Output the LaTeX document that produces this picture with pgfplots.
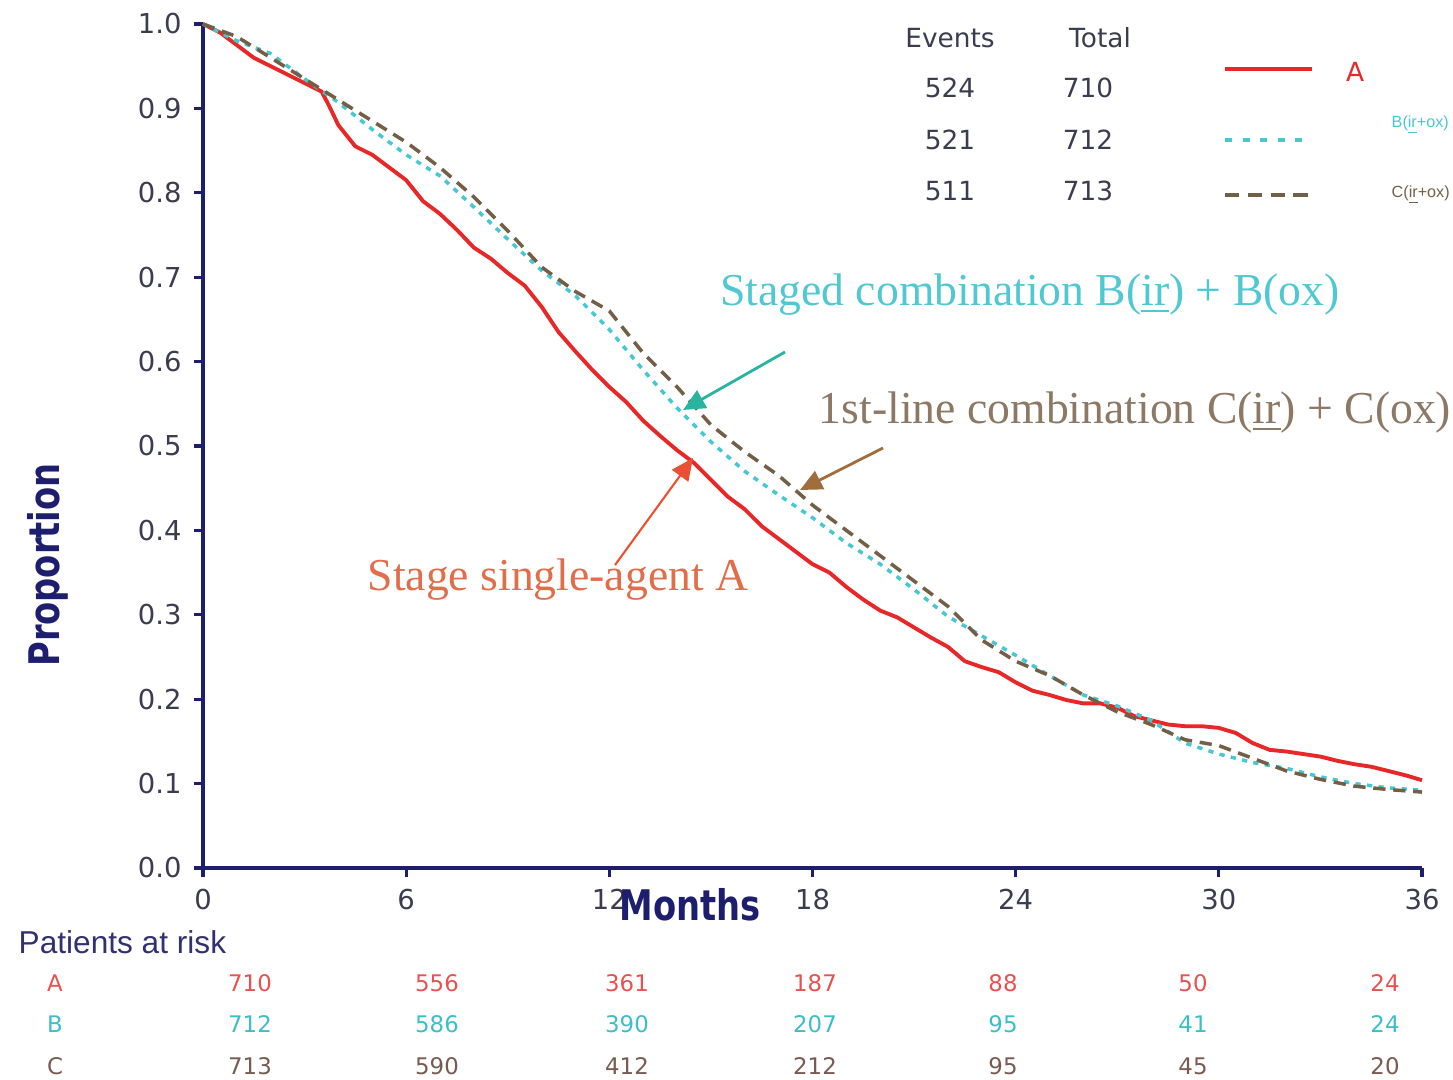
\documentclass[border=0pt]{standalone}
\usepackage{pgfplots}
\pgfplotsset{compat=1.18}
\usepackage{fontspec}
\setmainfont{DejaVu Sans}
\newfontfamily\serif{Liberation Serif}
\newfontfamily\lsans{Liberation Sans}
\usetikzlibrary{arrows.meta}
\definecolor{navy}{RGB}{30,30,110}
\definecolor{ticklab}{RGB}{60,60,80}
\definecolor{redA}{RGB}{232,40,40}
\definecolor{cyanB}{RGB}{70,200,210}
\definecolor{brownC}{RGB}{115,95,70}
\definecolor{txtB}{RGB}{80,200,210}
\definecolor{txtC}{RGB}{140,120,100}
\definecolor{txtA}{RGB}{225,110,75}
\definecolor{arrB}{RGB}{40,180,160}
\definecolor{arrC}{RGB}{160,110,60}
\definecolor{arrA}{RGB}{235,80,50}
\definecolor{tabA}{RGB}{235,80,80}
\definecolor{tabB}{RGB}{60,190,200}
\definecolor{tabC}{RGB}{120,90,80}
\begin{document}
\begin{tikzpicture}
\path[use as bounding box] (-20.3mm,-21.1mm) rectangle (125.0mm,86.8mm);
\begin{axis}[
  at={(0,0)}, anchor=origin,
  scale only axis, width=121.9mm, height=84.4mm,
  xmin=0, xmax=36, ymin=0, ymax=1,
  axis lines*=left,
  axis line style={navy, line width=1pt},
  xtick={0,6,12,18,24,30,36},
  ytick={0,0.1,0.2,0.3,0.4,0.5,0.6,0.7,0.8,0.9,1.0},
  tick align=outside, major tick length=0.9mm,
  tick style={navy, line width=0.9pt},
  ticklabel style={font=\fontsize{7.8}{9}\selectfont, text=ticklab},
  yticklabel style={/pgf/number format/.cd, fixed, fixed zerofill, precision=1},
  /pgf/number format/assume math mode=true,
  clip=false,
]
% A
\addplot[redA, line width=1.1pt] coordinates {
(0,1.0) (0.5,0.99) (1,0.975) (1.5,0.96) (2,0.95) (2.5,0.94) (3,0.93) (3.5,0.92) (3.7,0.905) (4,0.88) (4.5,0.855) (5,0.845) (5.5,0.83) (6,0.815) (6.5,0.79) (7,0.775) (7.5,0.756) (8,0.735) (8.5,0.722) (9,0.705) (9.5,0.69) (10,0.665) (10.5,0.635) (11,0.612) (11.5,0.59) (12,0.57) (12.5,0.552) (13,0.53) (13.5,0.512) (14,0.495) (14.5,0.48) (15,0.46) (15.5,0.44) (16,0.425) (16.5,0.405) (17,0.39) (17.5,0.375) (18,0.36) (18.5,0.35) (19,0.333) (19.5,0.318) (20,0.305) (20.5,0.297) (21,0.285) (21.5,0.273) (22,0.262) (22.5,0.245) (23,0.238) (23.5,0.232) (24,0.22) (24.5,0.21) (25,0.205) (25.5,0.199) (26,0.195) (26.5,0.195) (27,0.19) (27.5,0.18) (28,0.175) (28.5,0.17) (29,0.168) (29.5,0.168) (30,0.166) (30.5,0.16) (31,0.148) (31.5,0.14) (32,0.138) (32.5,0.135) (33,0.132) (33.5,0.127) (34,0.123) (34.5,0.12) (35,0.115) (35.5,0.11) (36,0.104)
};
% B
\addplot[cyanB, line width=1pt, dash pattern=on 1.5pt off 1.8pt] coordinates {
(0,1.0) (1,0.98) (2,0.965) (3,0.935) (4,0.907) (5,0.875) (6,0.845) (7,0.82) (8,0.783) (9,0.745) (10,0.708) (11,0.678) (12,0.638) (13,0.59) (14,0.545) (15,0.505) (16,0.47) (17,0.442) (18,0.415) (19,0.385) (20,0.36) (21,0.33) (22,0.298) (23,0.275) (24,0.252) (25,0.228) (26,0.205) (27,0.192) (28,0.175) (29,0.148) (30,0.135) (31,0.125) (32,0.118) (33,0.108) (34,0.1) (35,0.095) (36,0.092)
};
% C
\addplot[brownC, line width=1pt, dash pattern=on 3.5pt off 2.2pt] coordinates {
(0,1.0) (1,0.985) (2,0.96) (3,0.935) (4,0.91) (5,0.885) (6,0.86) (7,0.83) (8,0.795) (9,0.755) (10,0.712) (11,0.683) (12,0.66) (13,0.61) (14,0.57) (15,0.525) (16,0.493) (17,0.465) (18,0.43) (19,0.4) (20,0.37) (21,0.34) (22,0.31) (23,0.27) (24,0.245) (25,0.228) (26,0.205) (27,0.185) (28,0.17) (29,0.152) (30,0.145) (31,0.13) (32,0.115) (33,0.105) (34,0.097) (35,0.093) (36,0.09)
};
% legend samples
\addplot[redA, line width=1.4pt, forget plot] coordinates {(30.18,0.9467) (32.75,0.9467)};
\addplot[cyanB, line width=1.2pt, dash pattern=on 2pt off 3pt, forget plot] coordinates {(30.18,0.8626) (32.55,0.8626)};
\addplot[brownC, line width=1.2pt, dash pattern=on 4pt off 2.5pt, forget plot] coordinates {(30.18,0.7974) (32.69,0.7974)};
\end{axis}
% legend table
\begin{scope}[font=\fontsize{7.5}{9}\selectfont, text=ticklab]
\node at (74.7mm,83.0mm) {Events};
\node at (89.7mm,83.0mm) {Total};
\node at (74.7mm,78.0mm) {524};
\node at (88.5mm,78.0mm) {710};
\node at (74.7mm,72.8mm) {521};
\node at (88.5mm,72.8mm) {712};
\node at (74.7mm,67.7mm) {511};
\node at (88.5mm,67.7mm) {713};
\end{scope}
\node[text=redA, font=\fontsize{7.5}{9}\selectfont] at (115.2mm,79.6mm) {A};
\node[anchor=west, inner sep=0pt, text=cyanB, font=\lsans\fontsize{4.6}{5.5}\selectfont] at (118.8mm,74.3mm) {B(\underline{ir}+ox)};
\node[anchor=west, inner sep=0pt, text=brownC, font=\lsans\fontsize{4.6}{5.5}\selectfont] at (118.8mm,67.3mm) {C(\underline{ir}+ox)};
% annotations
\node[text=txtB, font=\serif\fontsize{13}{15}\selectfont] at (82.7mm,57.3mm) {Staged combination B(\underline{ir}) + B(ox)};
\node[text=txtC, font=\serif\fontsize{13}{15}\selectfont] at (93.2mm,45.5mm) {1st-line combination C(\underline{ir}) + C(ox)};
\node[text=txtA, font=\serif\fontsize{13}{15}\selectfont] at (35.5mm,28.8mm) {Stage single-agent A};
\draw[arrB, line width=0.8pt, -{Triangle[length=2.2mm,width=2mm]}] (58.2mm,51.6mm) -- (48.0mm,45.8mm);
\draw[arrC, line width=0.8pt, -{Triangle[length=2.2mm,width=2mm]}] (68.0mm,42.0mm) -- (59.7mm,37.8mm);
\draw[arrA, line width=0.6pt, -{Triangle[length=2.2mm,width=2mm]}] (41.2mm,30.3mm) -- (49.0mm,41.0mm);
% axis titles
\node[text=navy, font=\bfseries\fontsize{12}{14}\selectfont, xscale=0.8] at (48.7mm,-3.7mm) {Months};
\node[text=navy, font=\bfseries\fontsize{12}{14}\selectfont, rotate=90, xscale=0.8] at (-15.5mm,30.3mm) {Proportion};
% patients at risk
\node[anchor=west, inner sep=0pt, text=navy!80!gray, font=\lsans\fontsize{9}{10}\selectfont] at (-18.5mm,-7.4mm) {Patients at risk};
\begin{scope}[font=\fontsize{6.5}{8}\selectfont]
\node[text=tabA] at (-14.8mm,-11.5mm) {A};
\node[text=tabB] at (-14.8mm,-15.6mm) {B};
\node[text=tabC] at (-14.8mm,-19.8mm) {C};
\foreach \x/\a/\b/\c in {4.7/710/712/713, 23.4/556/586/590, 42.4/361/390/412, 61.2/187/207/212, 80.0/88/95/95, 99.0/50/41/45, 118.2/24/24/20}{
  \node[text=tabA] at (\x mm,-11.5mm) {\a};
  \node[text=tabB] at (\x mm,-15.6mm) {\b};
  \node[text=tabC] at (\x mm,-19.8mm) {\c};
}
\end{scope}
\end{tikzpicture}
\end{document}
